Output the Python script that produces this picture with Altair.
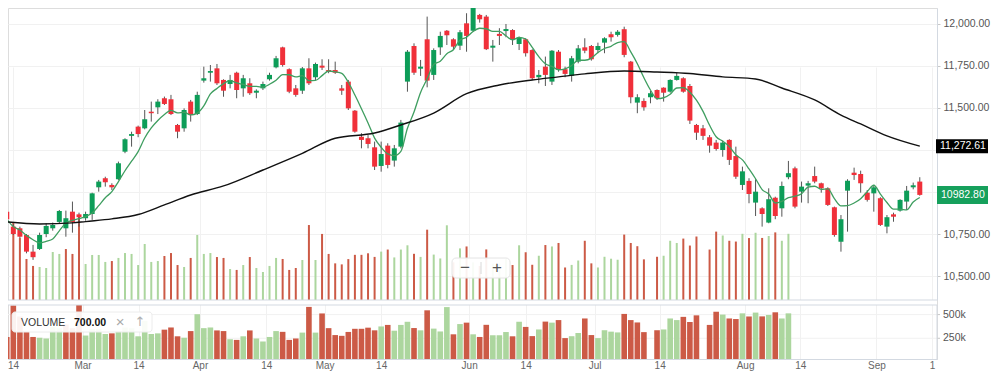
import altair as alt
import pandas as pd

# ---------------- data ----------------
opens = [10883, 10794, 10784, 10744, 10645, 10661, 10750, 10784, 10822, 10784,
         10883, 10867, 10844, 10869, 11028, 11082, 11042, 11076, 11240, 11334,
         11389, 11379, 11478, 11504, 11558, 11552, 11399, 11379, 11538, 11464,
         11663, 11710, 11736, 11667, 11643, 11710, 11617, 11647, 11591, 11617,
         11671, 11742, 11861, 11731, 11617, 11603, 11736, 11683, 11752, 11726,
         11726, 11617, 11657, 11484, 11329, 11320, 11266, 11155, 11276, 11187,
         11270, 11657, 11869, 11734, 11909, 11697, 11861, 11960, 11909, 11871,
         12004, 11960, 12054, 12044, 11859, 11941, 11958, 11964, 11881, 11909,
         11845, 11683, 11746, 11657, 11835, 11731, 11691, 11776, 11861, 11869,
         11845, 11889, 11939, 11935, 11969, 11776, 11532, 11542, 11564, 11607,
         11621, 11597, 11667, 11677, 11631, 11399, 11379, 11326, 11294, 11250,
         11310, 11214, 11042, 11066, 10937, 10903, 10818, 10966, 10903, 11088,
         11141, 11002, 11038, 11095, 11052, 11022, 10909, 10704, 11008, 11115,
         11107, 10996, 10992, 10963, 10794, 10867, 10889, 10943, 11028, 11062]
highs = [10913, 10810, 10794, 10750, 10685, 10758, 10814, 10818, 10893, 10889,
         10943, 10877, 10883, 10996, 11072, 11091, 11052, 11181, 11320, 11359,
         11395, 11488, 11538, 11552, 11568, 11578, 11405, 11498, 11548, 11597,
         11746, 11756, 11762, 11671, 11697, 11716, 11697, 11677, 11611, 11657,
         11710, 11810, 11865, 11736, 11637, 11744, 11796, 11770, 11790, 11790,
         11776, 11637, 11667, 11488, 11350, 11339, 11300, 11300, 11290, 11280,
         11429, 11845, 11885, 11786, 12044, 11855, 11954, 11964, 11915, 11964,
         12064, 12103, 12060, 12054, 11905, 11975, 12000, 11969, 11925, 11915,
         11850, 11726, 11806, 11845, 11845, 11746, 11810, 11875, 11915, 11875,
         11889, 11921, 11954, 11964, 11984, 11780, 11582, 11558, 11603, 11611,
         11623, 11671, 11710, 11683, 11643, 11405, 11399, 11339, 11310, 11306,
         11314, 11270, 11151, 11082, 11076, 10909, 11022, 10972, 11062, 11185,
         11151, 11062, 11066, 11151, 11056, 11028, 10913, 10863, 11076, 11145,
         11127, 11012, 11042, 10969, 10863, 10877, 10957, 11036, 11056, 11088]
lows = [10828, 10744, 10725, 10635, 10596, 10655, 10731, 10770, 10813, 10734,
        10758, 10794, 10829, 10834, 11002, 11032, 11012, 11072, 11231, 11270,
        11326, 11373, 11419, 11464, 11518, 11458, 11320, 11359, 11419, 11458,
        11651, 11657, 11637, 11567, 11617, 11558, 11567, 11578, 11558, 11607,
        11663, 11736, 11746, 11588, 11567, 11584, 11637, 11667, 11726, 11707,
        11703, 11578, 11488, 11353, 11260, 11260, 11131, 11121, 11141, 11151,
        11260, 11597, 11697, 11691, 11623, 11667, 11816, 11875, 11845, 11845,
        11835, 11954, 12008, 11845, 11776, 11875, 11921, 11875, 11845, 11806,
        11667, 11647, 11631, 11637, 11716, 11683, 11657, 11766, 11826, 11782,
        11826, 11826, 11895, 11925, 11802, 11528, 11469, 11484, 11528, 11548,
        11538, 11591, 11663, 11591, 11405, 11310, 11310, 11234, 11246, 11210,
        11161, 11078, 11012, 10933, 10857, 10794, 10814, 10838, 10853, 11076,
        10903, 10937, 10933, 11052, 10996, 10917, 10734, 10645, 10764, 11072,
        10996, 10943, 10883, 10798, 10754, 10823, 10883, 10893, 11016, 10978]
closes = [10838, 10750, 10734, 10645, 10612, 10744, 10798, 10804, 10887, 10844,
          10820, 10850, 10869, 10992, 11062, 11058, 11028, 11171, 11314, 11345,
          11345, 11433, 11469, 11538, 11524, 11464, 11359, 11488, 11458, 11578,
          11677, 11720, 11647, 11603, 11667, 11607, 11677, 11588, 11603, 11643,
          11697, 11796, 11756, 11597, 11578, 11736, 11647, 11762, 11740, 11716,
          11710, 11603, 11498, 11359, 11310, 11286, 11151, 11226, 11161, 11260,
          11413, 11835, 11710, 11746, 11663, 11845, 11929, 11933, 11865, 11951,
          11929, 12100, 12028, 11850, 11871, 11929, 11970, 11909, 11919, 11826,
          11677, 11697, 11697, 11841, 11726, 11703, 11796, 11855, 11841, 11790,
          11869, 11915, 11921, 11954, 11816, 11564, 11564, 11504, 11588, 11558,
          11591, 11667, 11691, 11597, 11425, 11353, 11334, 11276, 11256, 11294,
          11191, 11091, 11123, 10988, 11002, 10869, 10957, 10857, 11036, 11112,
          10913, 11032, 11052, 11062, 11022, 10923, 10744, 10838, 11067, 11101,
          11052, 10953, 11028, 10804, 10850, 10853, 10953, 11008, 11040, 10982.80]
# volume in thousands (None = no volume bar)
volumes = [264, 597, 480, 318, 264, 256, 248, 372, 357, 395,
           357, 651, 279, 349, 349, 295, 302, 326, 364, 357,
           271, 434, 295, 302, 341, 364, 271, 256, 326, 504,
           357, 364, 333, 326, 240, 233, 271, 333, 248, 217,
           264, 326, 318, 233, 248, 310, 581, 310, 512, 357,
           284, 276, 317, 350, 350, 362, 334, 375, 391, 330,
           391, 424, 358, 334, 545, 352, 322, 579, 292, 400,
           415, 292, 264, 392, 282, 282, 316, 271, 424, 370,
           273, 343, 426, 415, 442, 252, 272, 306, 459, 284,
           252, 335, 320, 312, 507, 442, 417, 315, None, 335,
           343, 459, 442, 476, 422, 492, None, 391, 530, 500,
           459, 453, 513, 480, 521, 481, 496, 524, 459, 513] + [None] * 20
# volume bar direction: u = up (green), d = down (red), n = none
vol_dir = list("ddddduuuud" "dduuuuduuu" "uuuudddudu" "uuddududuu"
               "uudddududd" "dddddddudu" "uududuuudu" "dudduuudud"
               "dududduudd" "uuuuddddnd" "uuudddnddu" "ddudududuu"
               "nnnnnnnnnnnnnnnnnnnn")
# long moving average (black line), read at sample bars
ma_idx = [0, 5, 10, 12, 16, 20, 24, 28, 33, 39, 45, 50, 56, 60, 65, 70,
          75, 80, 84, 88, 94, 99, 104, 109, 114, 118, 123, 127, 130, 134, 139]
ma_val = [10822, 10810, 10816, 10824, 10840, 10866, 10923, 10982, 11036, 11131,
          11230, 11320, 11351, 11399, 11470, 11585, 11637, 11667, 11685, 11703,
          11720, 11714, 11705, 11685, 11673, 11619, 11548, 11458, 11405, 11334,
          11272.61]
# time axis ticks (bar-index positions) and labels
tick_pos = [0.949, 11.54, 20.07, 29.41, 39.5, 48.4, 57.0, 70.4, 79.0, 89.5,
            99.4, 112.4, 120.8, 132.4, 140.86]
tick_lbl = ["14", "Mar", "14", "Apr", "14", "May", "14", "Jun", "14", "Jul",
            "14", "Aug", "14", "Sep", "1"]
price_ticks = [10500, 10750, 11000, 11250, 11500, 11750, 12000]
vol_ticks = [250, 500]

# ---------------- layout / styling ----------------
FONT = "Liberation Sans"
GRID = "#f1f1f1"
BORDER = "#d3d9e1"
UP = "#0d9d58"
DOWN = "#f0303a"
V_UP = "#acd69e"
V_DOWN = "#cc5a46"
W = 929             # plot width
H_MAIN = 292        # price panel height
V_TOP, V_BOT = 297, 351   # volume panel top / bottom
V_PX = 601 / 57     # thousands of shares per pixel in the volume panel
X_DOM = [tick_pos[0], tick_pos[-1]]
Y_DOM = [10357.2, 12095.2]

df = pd.DataFrame({"i": list(range(len(closes))), "open": opens, "high": highs,
                   "low": lows, "close": closes, "vol": volumes, "dir": vol_dir})
ma_df = pd.DataFrame({"i": ma_idx, "v": ma_val})
vt_df = pd.DataFrame({"v": vol_ticks})
one = pd.DataFrame({"a": [0]})

xs = alt.Scale(domain=X_DOM, nice=False, zero=False)
ys = alt.Scale(domain=Y_DOM, range=[H_MAIN, 0], nice=False, zero=False)
ov_scale = alt.Scale(domain=[0, 2263], range=[H_MAIN, 0], nice=False)
vs = alt.Scale(domain=[(V_TOP + 57 - V_BOT) * V_PX, 601], range=[V_BOT, V_TOP],
               nice=False, zero=False, clamp=True)

lbl_js = "[" + ",".join("'%s'" % s for s in tick_lbl) + "]"
pos_js = "[" + ",".join(repr(p) for p in tick_pos) + "]"
x_axis = alt.Axis(values=tick_pos, grid=True, gridColor=GRID, ticks=False, tickSize=0,
                  domain=True, domainColor=BORDER,
                  labelExpr=f"{lbl_js}[indexof({pos_js}, datum.value)]",
                  labelFlush=True, labelBaseline="alphabetic", labelPadding=9.6,
                  labelColor="#666", labelFontSize=10, labelFont=FONT, title=None)
# labels hidden where the last-value boxes cover them
hide = (f"abs(datum.value - {ma_val[-1]}) < 70 || abs(datum.value - {closes[-1]}) < 80"
        " ? '' : format(datum.value, ',.2f')")
price_axis = alt.Axis(orient="right", values=price_ticks, labelExpr=hide, grid=True,
                      gridColor=GRID, tickSize=3, tickColor="#c8c8c8",
                      domainColor=BORDER, labelColor="#555", labelFontSize=10.5,
                      labelFont=FONT, labelPadding=3, title=None)

X = alt.X("i:Q", scale=xs, axis=x_axis)
vcolor = alt.Color("dir:N", scale=alt.Scale(domain=["u", "d"], range=[V_UP, V_DOWN]),
                   legend=None)

# gap between the two panels
gap = alt.Chart(one).mark_rect(color="white").encode(
    x=alt.value(0), x2=alt.value(W), y=alt.value(H_MAIN), y2=alt.value(V_TOP))

# volume overlay in the price panel
vol_overlay = alt.Chart(df).mark_bar(size=2, clip=True).encode(
    x=X, y=alt.Y("vol:Q", scale=ov_scale, axis=None), color=vcolor)

# price panel
wicks = alt.Chart(df).mark_rule(clip=True, color="#555", strokeWidth=1).encode(
    x=X, y=alt.Y("low:Q", scale=ys, axis=price_axis), y2="high:Q")
bodies = alt.Chart(df).mark_bar(size=5, clip=True).encode(
    x=X, y=alt.Y("open:Q", scale=ys, axis=price_axis), y2="close:Q",
    color=alt.condition("datum.close >= datum.open", alt.value(UP), alt.value(DOWN)))
sma = alt.Chart(df).transform_window(
    sma="mean(close)", frame=[-4, 0], sort=[alt.SortField("i")]
).mark_line(clip=True, color="#3f9e60", strokeWidth=1.3, interpolate="monotone").encode(
    x=X, y=alt.Y("sma:Q", scale=ys, axis=price_axis))
ma_line = alt.Chart(ma_df).mark_line(clip=True, color="#111", strokeWidth=1.4,
                                     interpolate="monotone").encode(
    x=X, y=alt.Y("v:Q", scale=ys, axis=price_axis))

ma_last = pd.DataFrame({"v": [ma_val[-1]]})
close_last = pd.DataFrame({"v": [closes[-1]]})
ma_box = alt.Chart(ma_last).mark_rule(color="#000", strokeWidth=14, strokeCap="butt").encode(
    x=alt.value(928), x2=alt.value(980), y=alt.Y("v:Q", scale=ys, axis=price_axis))
ma_txt = alt.Chart(ma_last).mark_text(align="left", baseline="middle", color="white",
                                      fontSize=10.5, font=FONT).encode(
    x=alt.value(932), y=alt.Y("v:Q", scale=ys, axis=price_axis),
    text=alt.value(f"{ma_val[-1]:,.2f}"))
cl_box = alt.Chart(close_last).mark_rule(color="#16a05c", strokeWidth=18, strokeCap="butt").encode(
    x=alt.value(929), x2=alt.value(980), y=alt.Y("v:Q", scale=ys, axis=price_axis))
cl_txt = alt.Chart(close_last).mark_text(align="left", baseline="middle", color="white",
                                         fontSize=10.5, font=FONT).encode(
    x=alt.value(933), y=alt.Y("v:Q", scale=ys, axis=price_axis),
    text=alt.value(f"{closes[-1]:.2f}"))

price_layer = alt.layer(wicks, bodies, sma, ma_line, ma_box, ma_txt, cl_box, cl_txt)

# volume panel
vgrid = alt.Chart(vt_df).mark_rule(color=GRID).encode(
    x=alt.value(0), x2=alt.value(W), y=alt.Y("v:Q", scale=vs, axis=None))
vbars = alt.Chart(df).mark_bar(size=5.6, clip=True).encode(
    x=X, y=alt.Y("vol:Q", scale=vs, axis=None), color=vcolor)
vticks = alt.Chart(vt_df).mark_rule(color="#c8c8c8").encode(
    x=alt.value(W), x2=alt.value(W + 3), y=alt.Y("v:Q", scale=vs, axis=None))
vlabels = alt.Chart(vt_df).transform_calculate(lbl="datum.v + 'k'").mark_text(
    align="left", baseline="middle", fontSize=10.5, color="#555", font=FONT).encode(
    x=alt.value(W + 6), y=alt.Y("v:Q", scale=vs, axis=None), text="lbl:N")
vol_layer = alt.layer(vgrid, vbars, vticks, vlabels)

# panel borders
b_main = alt.Chart(one).mark_rule(color=BORDER).encode(
    x=alt.value(0), x2=alt.value(W), y=alt.value(H_MAIN))
b_vtop = alt.Chart(one).mark_rule(color=BORDER).encode(
    x=alt.value(0), x2=alt.value(W), y=alt.value(V_TOP))
b_vright = alt.Chart(one).mark_rule(color=BORDER).encode(
    x=alt.value(W), y=alt.value(V_TOP), y2=alt.value(V_BOT))

# zoom control "− | +"
ctrl_box = alt.Chart(one).mark_rect(fill="white", fillOpacity=0.92, stroke="#e4e4e4",
                                    cornerRadius=4).encode(
    x=alt.value(444), x2=alt.value(502), y=alt.value(250), y2=alt.value(270))
ctrl_minus = alt.Chart(one).mark_text(fontSize=17, color="#555", font=FONT).encode(
    x=alt.value(457), y=alt.value(260), text=alt.value("−"))
ctrl_sep = alt.Chart(one).mark_rule(color="#d8d8d8").encode(
    x=alt.value(473), y=alt.value(254), y2=alt.value(266))
ctrl_plus = alt.Chart(one).mark_text(fontSize=17, color="#555", font=FONT).encode(
    x=alt.value(489), y=alt.value(260), text=alt.value("+"))

# volume legend
leg_box = alt.Chart(one).mark_rect(fill="white", fillOpacity=0.92, stroke="#ececec",
                                   cornerRadius=3).encode(
    x=alt.value(4), x2=alt.value(144), y=alt.value(V_TOP + 7), y2=alt.value(V_TOP + 27))
leg_t1 = alt.Chart(one).mark_text(align="left", baseline="middle", fontSize=10.5,
                                  color="#333", font=FONT).encode(
    x=alt.value(13), y=alt.value(V_TOP + 17.5), text=alt.value("VOLUME"))
leg_t2 = alt.Chart(one).mark_text(align="left", baseline="middle", fontSize=10.5,
                                  fontWeight="bold", color="#111", font=FONT).encode(
    x=alt.value(66), y=alt.value(V_TOP + 18), text=alt.value("700.00"))
leg_x = alt.Chart(one).mark_text(baseline="middle", fontSize=15, color="#aaa",
                                 font=FONT).encode(
    x=alt.value(112), y=alt.value(V_TOP + 17), text=alt.value("×"))
leg_up = alt.Chart(one).mark_text(baseline="middle", fontSize=13, color="#b0b0b0",
                                  font="DejaVu Sans").encode(
    x=alt.value(132), y=alt.value(V_TOP + 17), text=alt.value("↑"))

chart = alt.layer(
    gap, vol_overlay, price_layer, vol_layer, b_main, b_vtop, b_vright,
    ctrl_box, ctrl_minus, ctrl_sep, ctrl_plus,
    leg_box, leg_t1, leg_t2, leg_x, leg_up,
).resolve_scale(y="independent").properties(
    width=W, height=V_BOT,
    autosize=alt.AutoSizeParams(type="none"),
    padding={"left": 0, "top": 0, "right": 55, "bottom": 363 - V_BOT},
).configure_view(stroke=None).configure(font=FONT)

chart.save("out.html", embed_options={"renderer": "svg", "actions": False})
